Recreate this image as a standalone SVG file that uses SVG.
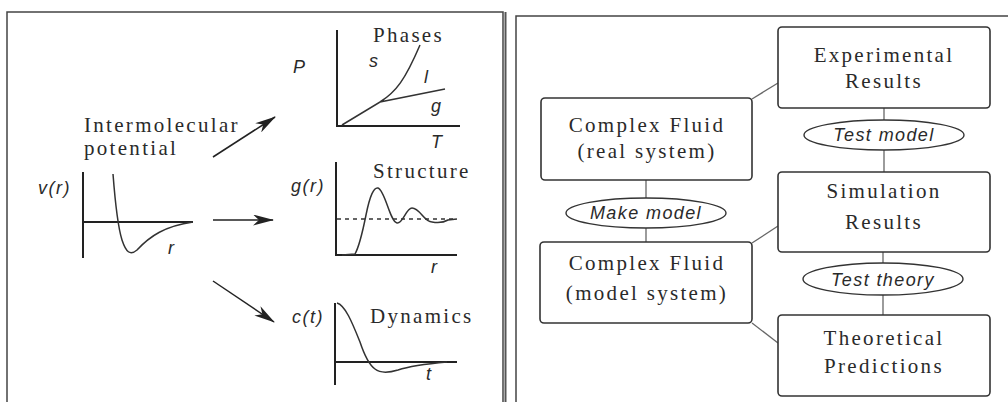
<svg xmlns="http://www.w3.org/2000/svg" width="1008" height="402" viewBox="0 0 1008 402">
<defs>
<style>
.frame{fill:none;stroke:#444;stroke-width:1.5}
.axis{fill:none;stroke:#222;stroke-width:2}
.curve{fill:none;stroke:#333;stroke-width:1.5}
.dash{fill:none;stroke:#333;stroke-width:1.3;stroke-dasharray:4 4}
.arr{fill:none;stroke:#222;stroke-width:1.5}
.serif{font-family:"Liberation Serif","Times New Roman",serif;font-size:21px;fill:#2a2a2a;letter-spacing:2.3px}
.box{fill:#fff;stroke:#333;stroke-width:1.6}
.ell{fill:#fff;stroke:#333;stroke-width:1.4}
.lbl{font-family:"Liberation Sans",Arial,sans-serif;font-style:italic;font-size:18px;fill:#2a2a2a;letter-spacing:1.4px}
.var{font-family:"Liberation Sans",Arial,sans-serif;font-style:italic;font-size:18px;fill:#2a2a2a;letter-spacing:1.5px}
.conn{fill:none;stroke:#666;stroke-width:1.3}
.mid{text-anchor:middle}
</style>
<marker id="ah" markerWidth="22" markerHeight="11" refX="20" refY="5.5" orient="auto" markerUnits="userSpaceOnUse">
<path d="M0,0 L21,5.5 L0,11 L6,5.5 Z" fill="#222"/>
</marker>
</defs>
<rect width="1008" height="402" fill="#fff"/>

<!-- Left panel -->
<g id="left-panel">
<path class="frame" d="M7,402 V12 H503 V402"/>
<line x1="505.5" y1="12" x2="505.5" y2="402" stroke="#555" stroke-width="2"/>
</g>

<g id="potential">
<text class="serif" x="84" y="132">Intermolecular</text>
<text class="serif" x="84" y="155">potential</text>
<path class="axis" d="M83,172 V258 M83,222 H193"/>
<path class="curve" d="M113,174 C115,200 117,224 122,240 C126,252 130,256 137,250 C150,236 165,226 193,222"/>
<text class="var" x="38" y="194">v(r)</text>
<text class="var" x="168" y="254">r</text>
</g>

<g id="phases">
<path class="axis" d="M337,30 V126 H460"/>
<path class="curve" d="M342,125 L380,102 L445,89 M380,102 C396,92 405,80 420,45"/>
<text class="serif" x="373" y="42">Phases</text>
<text class="var" x="293" y="73">P</text>
<text class="var" x="369" y="67">s</text>
<text class="var" x="424" y="83">l</text>
<text class="var" x="431" y="112">g</text>
<text class="var" x="431" y="148">T</text>
</g>

<g id="structure">
<path class="axis" d="M336,162 V255 H457"/>
<path class="dash" d="M337,219 H457"/>
<path class="curve" d="M342,255 L355,254 C360,245 363,230 366,215 C370,195 374,187 378,188 C385,190 390,222 397,223 C403,224 406,208 412,208 C420,208 424,222 432,222 C438,223 443,223 448,220 L457,219"/>
<text class="serif" x="373" y="178">Structure</text>
<text class="var" x="291" y="192">g(r)</text>
<text class="var" x="431" y="273">r</text>
</g>

<g id="dynamics">
<path class="axis" d="M335,303 V385 M335,362 H457"/>
<path class="curve" d="M337,303 C345,305 352,322 360,342 C364,354 368,364 375,369 C380,373 388,373 398,370 C410,366 425,364 447,362"/>
<text class="serif" x="370" y="323">Dynamics</text>
<text class="var" x="292" y="323">c(t)</text>
<text class="var" x="426" y="380">t</text>
</g>

<g id="arrows">
<line class="arr" x1="213" y1="157" x2="275" y2="117" marker-end="url(#ah)"/>
<line class="arr" x1="213" y1="220" x2="273" y2="220" marker-end="url(#ah)"/>
<line class="arr" x1="213" y1="281" x2="274" y2="322" marker-end="url(#ah)"/>
</g>

<!-- Right panel -->
<g id="right-panel">
<path class="frame" d="M516,402 V16 H1008"/>
</g>

<g id="connectors">
<line class="conn" x1="752" y1="99" x2="778" y2="83"/>
<line class="conn" x1="752" y1="243" x2="778" y2="226"/>
<line class="conn" x1="752" y1="323" x2="778" y2="343"/>
<line class="conn" x1="646" y1="180" x2="646" y2="198"/>
<line class="conn" x1="646" y1="228" x2="646" y2="242"/>
<line class="conn" x1="884" y1="108" x2="884" y2="120"/>
<line class="conn" x1="884" y1="150" x2="884" y2="172"/>
<line class="conn" x1="883" y1="252" x2="883" y2="263"/>
<line class="conn" x1="883" y1="295" x2="883" y2="315"/>
</g>

<g id="real-system">
<rect class="box" x="541" y="98" width="211" height="82" rx="4"/>
<text class="serif mid" x="647" y="132">Complex Fluid</text>
<text class="serif mid" x="647" y="158">(real system)</text>
</g>

<g id="experimental">
<rect class="box" x="778" y="27" width="212" height="81" rx="4"/>
<text class="serif mid" x="884" y="62">Experimental</text>
<text class="serif mid" x="884" y="88">Results</text>
</g>

<g id="test-model">
<ellipse class="ell" cx="884" cy="135" rx="80" ry="15"/>
<text class="lbl mid" x="884" y="141">Test model</text>
</g>

<g id="simulation">
<rect class="box" x="778" y="172" width="212" height="80" rx="4"/>
<text class="serif mid" x="884" y="198">Simulation</text>
<text class="serif mid" x="884" y="229">Results</text>
</g>

<g id="make-model">
<ellipse class="ell" cx="646" cy="213" rx="80" ry="15"/>
<text class="lbl mid" x="646" y="219">Make model</text>
</g>

<g id="model-system">
<rect class="box" x="540" y="242" width="212" height="81" rx="4"/>
<text class="serif mid" x="647" y="270">Complex Fluid</text>
<text class="serif mid" x="647" y="300">(model system)</text>
</g>

<g id="test-theory">
<ellipse class="ell" cx="883" cy="279" rx="80" ry="16"/>
<text class="lbl mid" x="883" y="286">Test theory</text>
</g>

<g id="theoretical">
<rect class="box" x="778" y="315" width="212" height="81" rx="4"/>
<text class="serif mid" x="884" y="345">Theoretical</text>
<text class="serif mid" x="884" y="373">Predictions</text>
</g>
</svg>
